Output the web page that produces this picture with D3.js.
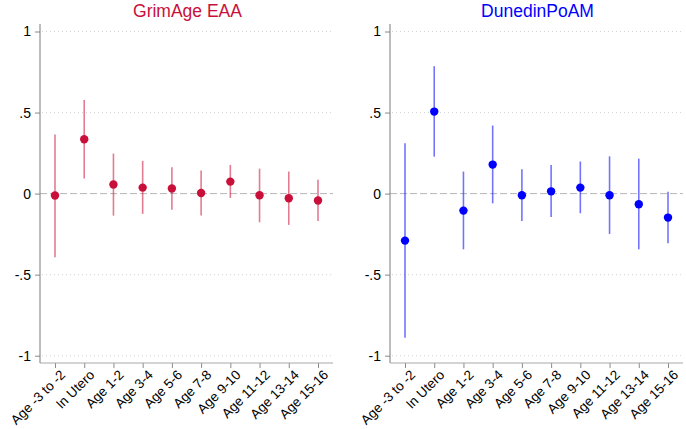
<!DOCTYPE html>
<html>
<head>
<meta charset="utf-8">
<script src="https://cdn.jsdelivr.net/npm/d3@7"></script>
<style>
  body { margin: 0; background: #fff; }
  svg { font-family: "Liberation Sans", Arial, sans-serif; }
</style>
</head>
<body>
<script>
const width = 686;
const height = 429;

// categories along the x axis
const ages = ["Age -3 to -2", "In Utero", "Age 1-2", "Age 3-4", "Age 5-6",
    "Age 7-8", "Age 9-10", "Age 11-12", "Age 13-14", "Age 15-16"];

const yTicks = [-1, -0.5, 0, 0.5, 1];

// GrimAge EAA estimates and CIs
const grimEst = [-0.012, 0.335, 0.056, 0.037, 0.031, 0.004, 0.074, -0.010, -0.029, -0.043];
const grimLo = [-0.393, 0.093, -0.136, -0.125, -0.100, -0.135, -0.027, -0.177, -0.193, -0.169];
const grimHi = [0.364, 0.578, 0.247, 0.202, 0.162, 0.142, 0.177, 0.154, 0.136, 0.085];

// DunedinPoAM estimates and CIs
const dunEst = [-0.290, 0.506, -0.105, 0.179, -0.010, 0.014, 0.037, -0.010, -0.066, -0.148];
const dunLo = [-0.889, 0.228, -0.344, -0.060, -0.169, -0.144, -0.121, -0.249, -0.344, -0.307];
const dunHi = [0.310, 0.786, 0.136, 0.420, 0.150, 0.177, 0.198, 0.230, 0.216, 0.012];

let svg = d3.select("body")
    .append("svg")
    .attr("width", width)
    .attr("height", height);

function tickFmt(d) {
    if (d === 0) return "0";
    if (Number.isInteger(d)) return String(d);
    return String(d).replace("0.", ".");
}

function panel(opts) {
    let { left, right, title, color, est, lo, hi } = opts;
    let top = 24, bottom = 363;

    let y = d3.scaleLinear()
        .domain([-1, 1])
        .range([355.7, 31.5]);

    let x = d3.scalePoint()
        .domain(ages)
        .range([left + 15, right - 15]);

    let g = svg.append("g");

    // grid lines
    g.selectAll(".grid")
        .data(yTicks.filter(d => d !== 0))
        .join("line")
        .attr("x1", left + 2)
        .attr("x2", right)
        .attr("y1", d => y(d))
        .attr("y2", d => y(d))
        .attr("stroke", "#d4d4d4")
        .attr("stroke-width", 1)
        .attr("stroke-dasharray", "1,3");

    // zero reference line
    g.append("line")
        .attr("x1", left)
        .attr("x2", right)
        .attr("y1", y(0))
        .attr("y2", y(0))
        .attr("stroke", "#b5b5b5")
        .attr("stroke-width", 1)
        .attr("stroke-dasharray", "7,3");

    // axes
    let leftAxis = d3.axisLeft(y)
        .tickValues(yTicks)
        .tickFormat(tickFmt)
        .tickSize(5)
        .tickPadding(4);

    let yG = g.append("g")
        .attr("transform", `translate(${left}, 0)`)
        .call(leftAxis);
    yG.select(".domain").remove();
    yG.append("line")
        .attr("y1", top)
        .attr("y2", bottom)
        .attr("stroke", "#7a7a7a");

    let bottomAxis = d3.axisBottom(x)
        .tickSize(5)
        .tickPadding(3);

    let xG = g.append("g")
        .attr("transform", `translate(0, ${bottom})`)
        .call(bottomAxis);
    xG.select(".domain").remove();
    xG.append("line")
        .attr("x1", left)
        .attr("x2", right)
        .attr("stroke", "#a8a8a8");

    g.selectAll(".tick line").attr("stroke", "#8a8a8a");
    yG.selectAll(".tick text")
        .attr("fill", "#000")
        .style("font-size", "14px");

    xG.selectAll(".tick text")
        .attr("fill", "#000")
        .style("font-size", "13.5px")
        .attr("text-anchor", "end")
        .attr("dy", "0")
        .attr("transform", "translate(5, 7) rotate(-45)");

    // confidence intervals
    g.selectAll(".ci")
        .data(ages)
        .join("line")
        .attr("x1", d => x(d))
        .attr("x2", d => x(d))
        .attr("y1", (d, i) => y(lo[i]))
        .attr("y2", (d, i) => y(hi[i]))
        .attr("stroke", color)
        .attr("stroke-opacity", 0.55)
        .attr("stroke-width", 1.6);

    // point estimates
    g.selectAll(".pt")
        .data(ages)
        .join("circle")
        .attr("cx", d => x(d))
        .attr("cy", (d, i) => y(est[i]))
        .attr("r", 4.2)
        .attr("fill", color);

    svg.append("text")
        .text(title)
        .attr("x", (left + right) / 2 + 1)
        .attr("y", 17)
        .attr("text-anchor", "middle")
        .attr("fill", color)
        .style("font-size", "17.5px");
}

panel({ left: 40, right: 333, title: "GrimAge EAA", color: "#c8103a",
    est: grimEst, lo: grimLo, hi: grimHi });

panel({ left: 390, right: 683, title: "DunedinPoAM", color: "#0000ff",
    est: dunEst, lo: dunLo, hi: dunHi });
</script>
</body>
</html>
